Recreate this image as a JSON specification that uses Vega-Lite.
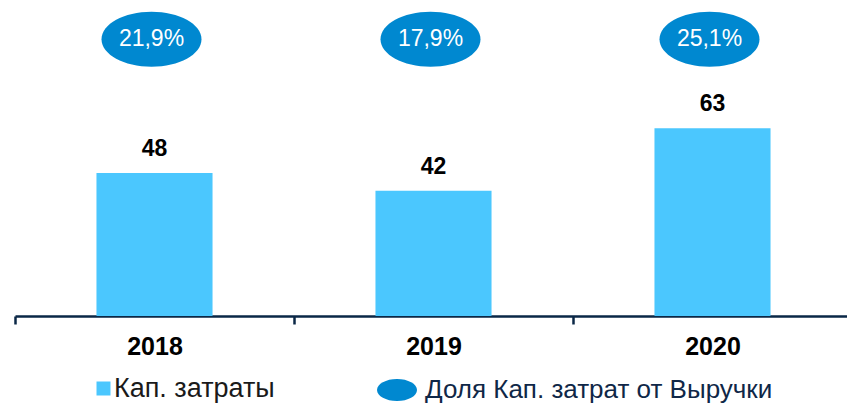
{
  "$schema": "https://vega.github.io/schema/vega-lite/v6.json",
  "width": 832,
  "height": 316,
  "autosize": "none",
  "padding": {"left": 15, "top": 0, "right": 0, "bottom": 87},
  "background": "white",
  "config": {"view": {"stroke": null}, "font": "Liberation Sans"},
  "datasets": {
    "capex": [
      {"year": "2018", "value": 48, "series": "Кап. затраты"},
      {"year": "2019", "value": 42, "series": "Кап. затраты"},
      {"year": "2020", "value": 63, "series": "Кап. затраты"}
    ],
    "share": [
      {"year": "2018", "share": "21,9%", "series": "Доля Кап. затрат от Выручки"},
      {"year": "2019", "share": "17,9%", "series": "Доля Кап. затрат от Выручки"},
      {"year": "2020", "share": "25,1%", "series": "Доля Кап. затрат от Выручки"}
    ]
  },
  "layer": [
    {
      "data": {"name": "capex"},
      "mark": {"type": "bar", "width": {"band": 0.416}},
      "encoding": {
        "x": {
          "field": "year", "type": "nominal",
          "scale": {"range": [0, 837], "paddingInner": 0, "paddingOuter": 0},
          "axis": {
            "title": null, "domainColor": "#0A2746", "domainWidth": 2.5,
            "tickColor": "#0A2746", "tickWidth": 2.5, "tickSize": 8, "tickBand": "extent",
            "labelFontSize": 25, "labelFontWeight": "bold", "labelColor": "black",
            "labelPadding": 10, "labelAngle": 0, "labelFont": "Liberation Sans", "grid": false
          }
        },
        "y": {"field": "value", "type": "quantitative", "scale": {"domain": [0, 106], "nice": false}, "axis": null},
        "color": {
          "field": "series", "type": "nominal",
          "scale": {"domain": ["Кап. затраты"], "range": ["#4BC7FE"]},
          "legend": {
            "title": null, "orient": "none", "legendX": 75, "legendY": 375,
            "symbolType": "square", "symbolSize": 196, "symbolStrokeWidth": 0,
            "labelFontSize": 27, "labelColor": "#1a1a1a", "labelOffset": -3, "padding": 0,
            "labelFont": "Liberation Sans", "labelLimit": 0
          }
        }
      }
    },
    {
      "data": {"name": "capex"},
      "mark": {"type": "text", "fontSize": 23, "fontWeight": "bold", "dy": -17, "baseline": "alphabetic", "color": "black", "font": "Liberation Sans"},
      "encoding": {
        "x": {"field": "year", "type": "nominal"},
        "y": {"field": "value", "type": "quantitative"},
        "text": {"field": "value", "type": "quantitative"}
      }
    },
    {
      "data": {"name": "share"},
      "mark": {"type": "point", "filled": true, "size": 10000, "color": "#0088D0", "opacity": 1, "xOffset": -3, "strokeWidth": 0},
      "encoding": {
        "x": {"field": "year", "type": "nominal"},
        "y": {"datum": 92.8, "type": "quantitative"},
        "shape": {
          "field": "series", "type": "nominal",
          "scale": {"domain": ["Доля Кап. затрат от Выручки"], "range": ["M-1,0A1,0.55 0 1,1 1,0A1,0.55 0 1,1 -1,0Z"]},
          "legend": {
            "title": null, "orient": "none", "legendX": 362, "legendY": 370,
            "symbolSize": 1600, "symbolFillColor": "#0088D0", "symbolStrokeWidth": 0, "symbolOpacity": 1,
            "labelFontSize": 26, "labelColor": "#0F2747", "labelOffset": 8, "padding": 0,
            "labelFont": "Liberation Sans", "labelLimit": 0
          }
        }
      }
    },
    {
      "data": {"name": "share"},
      "mark": {"type": "text", "fontSize": 23, "color": "white", "xOffset": -3, "baseline": "middle", "font": "Liberation Sans"},
      "encoding": {
        "x": {"field": "year", "type": "nominal"},
        "y": {"datum": 92.8, "type": "quantitative"},
        "text": {"field": "share", "type": "nominal"}
      }
    }
  ]
}
